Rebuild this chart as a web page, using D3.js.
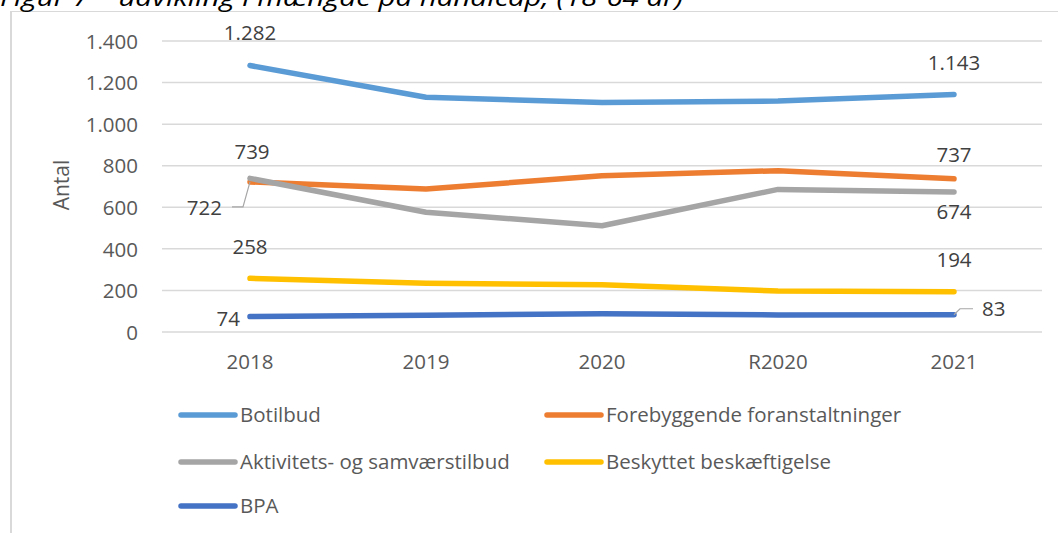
<!DOCTYPE html>
<html>
<head>
<meta charset="utf-8">
<script src="https://cdn.jsdelivr.net/npm/d3@7"></script>
<style>
  html, body { margin: 0; padding: 0; background: #fff; overflow: hidden; }
  text { font-family: "Open Sans", "Liberation Sans", sans-serif; }
</style>
</head>
<body>
<div id="chart"></div>
<script>
// Data
const categories = ["2018", "2019", "2020", "R2020", "2021"];
const seriesNames = ["Botilbud", "Forebyggende foranstaltninger", "Aktivitets- og samværstilbud", "Beskyttet beskæftigelse", "BPA"];
const botilbud = [1282, 1129, 1104, 1111, 1143];
const forebyggende = [722, 688, 752, 776, 737];
const aktivitets = [739, 576, 511, 686, 674];
const beskyttet = [258, 234, 227, 197, 194];
const bpa = [74, 80, 88, 82, 83];
const yTicks = [0, 200, 400, 600, 800, 1000, 1200, 1400];
const titleText = "Figur 7 – udvikling i mængde på handicap, (18-64 år)";
const yTitle = "Antal";

const seriesValues = [botilbud, forebyggende, aktivitets, beskyttet, bpa];
const colors = ["#5B9BD5", "#ED7D31", "#A5A5A5", "#FFC000", "#4472C4"];

const width = 1058, height = 533;
const plot = { left: 162, right: 1042, top: 41, bottom: 332 };

// Danish number format (1.282)
const locale = d3.formatLocale({ decimal: ",", thousands: ".", grouping: [3], currency: ["", ""] });
const fmt = locale.format(",d");

const svg = d3.select("#chart").append("svg")
    .attr("width", width)
    .attr("height", height);

// Chart frame (only left and top edges are visible in the crop)
svg.append("line")
    .attr("x1", 11).attr("x2", 11).attr("y1", 11).attr("y2", height)
    .attr("stroke", "#d9d9d9").attr("stroke-width", 2);
svg.append("line")
    .attr("x1", 11).attr("x2", width).attr("y1", 11.5).attr("y2", 11.5)
    .attr("stroke", "#d9d9d9").attr("stroke-width", 1);

// Title, cut off at the top like the reference
svg.append("text")
    .attr("x", 0)
    .attr("y", 6)
    .attr("textLength", 683)
    .attr("lengthAdjust", "spacingAndGlyphs")
    .style("font-size", "23px")
    .style("font-style", "italic")
    .attr("fill", "#000")
    .text(titleText);

// Scales
const x = d3.scaleBand()
    .domain(categories)
    .range([plot.left, plot.right])
    .padding(0);
const cx = d => x(d) + x.bandwidth() / 2;

const y = d3.scaleLinear()
    .domain([0, 1400])
    .range([plot.bottom, plot.top]);

// Gridlines
svg.append("g")
    .selectAll("line")
    .data(yTicks)
    .enter().append("line")
    .attr("x1", plot.left).attr("x2", plot.right)
    .attr("y1", d => y(d)).attr("y2", d => y(d))
    .attr("stroke", "#d9d9d9")
    .attr("stroke-width", 1.5);

// Y axis labels
const yAxis = d3.axisLeft(y)
    .tickValues(yTicks)
    .tickFormat(fmt)
    .tickSize(0)
    .tickPadding(0);
const yg = svg.append("g")
    .attr("transform", "translate(138,0)")
    .call(yAxis);
yg.select(".domain").remove();
yg.selectAll("text")
    .attr("fill", "#595959")
    .style("font-size", "20.5px")
    .attr("dy", "0.35em");

// X axis labels
const xAxis = d3.axisBottom(x).tickSize(0).tickPadding(0);
const xg = svg.append("g")
    .attr("transform", "translate(0,362)")
    .call(xAxis);
xg.select(".domain").remove();
xg.selectAll("text")
    .attr("fill", "#595959")
    .style("font-size", "20.5px")
    .attr("dy", "0.35em");

// Y axis title
svg.append("text")
    .attr("transform", "translate(69,185) rotate(-90)")
    .attr("text-anchor", "middle")
    .attr("fill", "#595959")
    .style("font-size", "21px")
    .text(yTitle);

// Lines
const line = d3.line()
    .x((d, i) => cx(categories[i]))
    .y(d => y(d));

svg.append("g")
    .selectAll("path")
    .data(seriesValues)
    .enter().append("path")
    .attr("d", d => line(d))
    .attr("fill", "none")
    .attr("stroke", (d, i) => colors[i])
    .attr("stroke-width", 5.5)
    .attr("stroke-linecap", "round")
    .attr("stroke-linejoin", "round");

// Data labels: series, point, offset from point, anchor, optional leader line
const labels = [
    { s: 0, p: 0, dx: 0, dy: -33, anchor: "middle" },
    { s: 0, p: 4, dx: 0, dy: -32, anchor: "middle" },
    { s: 2, p: 0, dx: 2, dy: -27, anchor: "middle" },
    { s: 1, p: 0, dx: -28, dy: 26, anchor: "end", leader: [[0, 0], [-7, 25], [-18, 25]] },
    { s: 1, p: 4, dx: 0, dy: -24, anchor: "middle" },
    { s: 2, p: 4, dx: 0, dy: 20, anchor: "middle" },
    { s: 3, p: 0, dx: 0, dy: -32, anchor: "middle" },
    { s: 3, p: 4, dx: 0, dy: -32, anchor: "middle" },
    { s: 4, p: 0, dx: -10, dy: 2, anchor: "end" },
    { s: 4, p: 4, dx: 28, dy: -6, anchor: "start", leader: [[0, 0], [6, -6], [19, -6]] }
];

const lg = svg.append("g");
labels.forEach(function (l) {
    const px = cx(categories[l.p]);
    const py = y(seriesValues[l.s][l.p]);
    if (l.leader) {
        lg.append("polyline")
            .attr("points", l.leader.map(q => (px + q[0]) + "," + (py + q[1])).join(" "))
            .attr("fill", "none")
            .attr("stroke", "#a6a6a6")
            .attr("stroke-width", 1.2);
    }
    lg.append("text")
        .attr("x", px + l.dx)
        .attr("y", py + l.dy)
        .attr("dy", "0.35em")
        .attr("text-anchor", l.anchor)
        .attr("fill", "#404040")
        .style("font-size", "20.5px")
        .text(fmt(seriesValues[l.s][l.p]));
});

// Legend
const legendPos = [[181, 415], [547, 415], [181, 462], [547, 462], [181, 506]];
const legend = svg.append("g")
    .selectAll("g")
    .data(seriesNames)
    .enter().append("g")
    .attr("transform", (d, i) => "translate(" + legendPos[i][0] + "," + legendPos[i][1] + ")");
legend.append("line")
    .attr("x1", 0).attr("x2", 54)
    .attr("y1", 0).attr("y2", 0)
    .attr("stroke", (d, i) => colors[i])
    .attr("stroke-width", 5.5)
    .attr("stroke-linecap", "round");
legend.append("text")
    .attr("x", 59)
    .attr("y", 0)
    .attr("dy", "0.35em")
    .attr("fill", "#595959")
    .style("font-size", "20.5px")
    .text(d => d);
</script>
</body>
</html>
